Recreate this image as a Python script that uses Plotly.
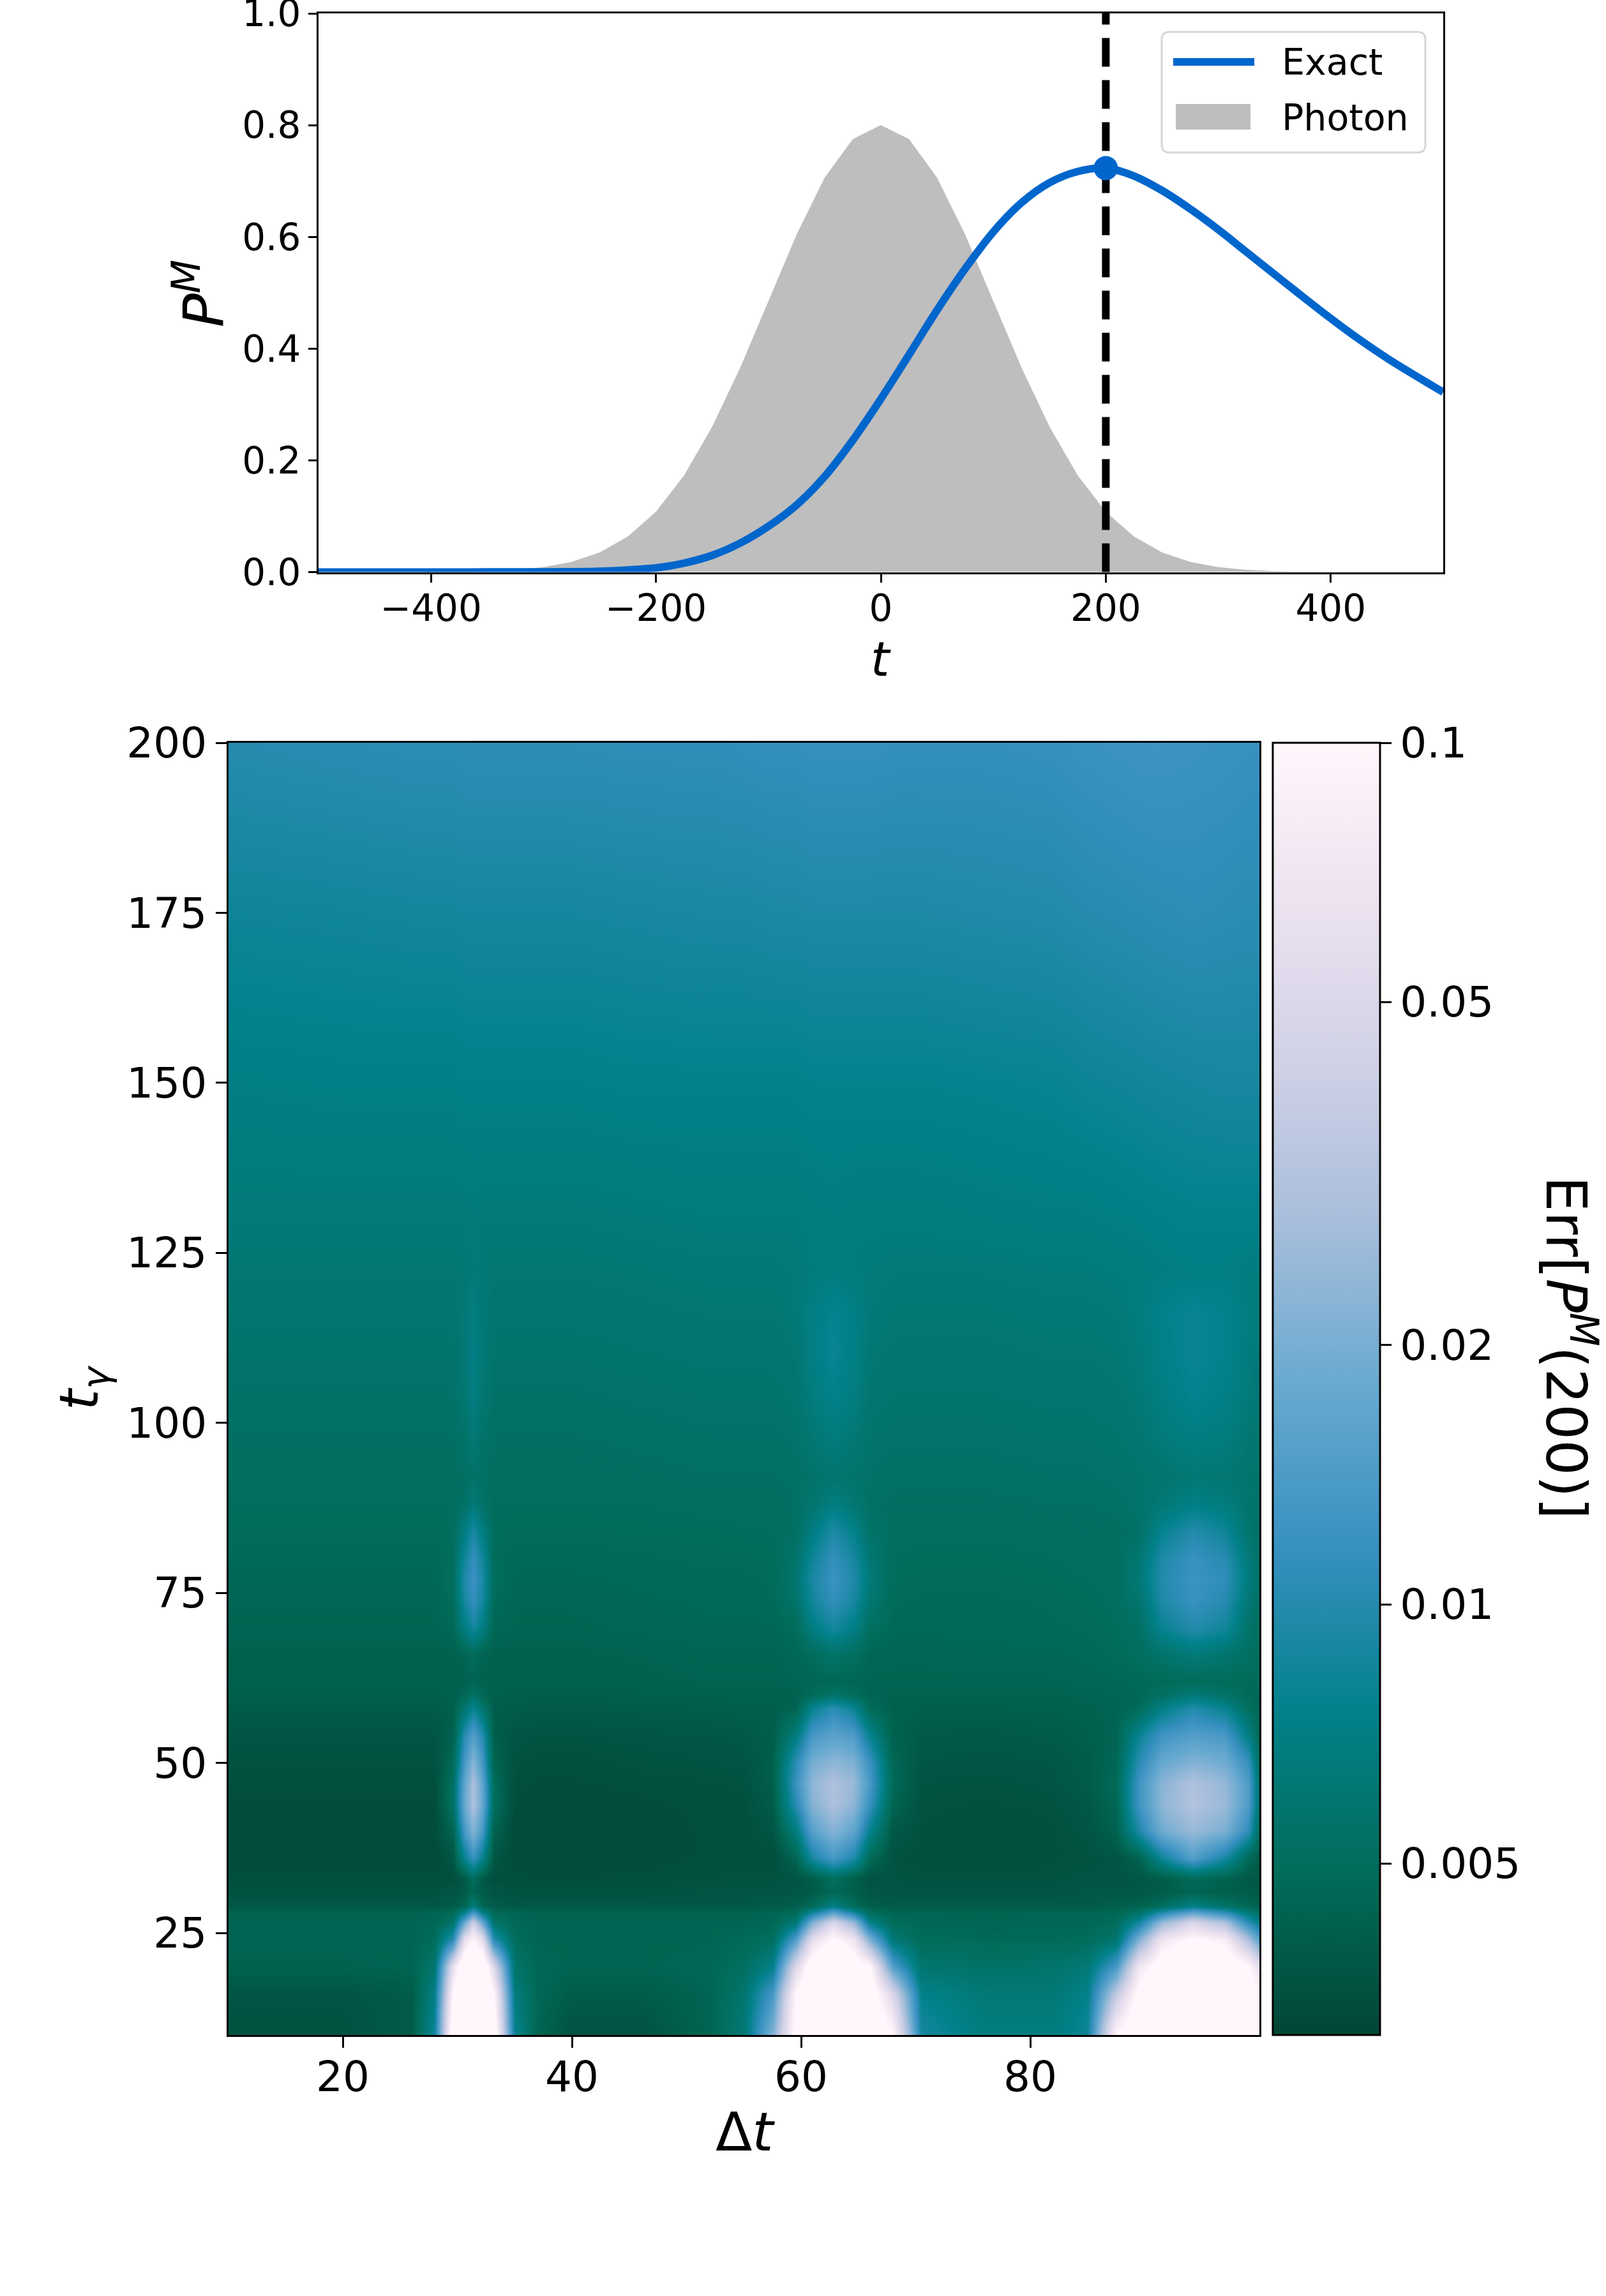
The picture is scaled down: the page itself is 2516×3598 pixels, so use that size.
import numpy as np
import plotly.graph_objects as go

W, H = 2516, 3598
FONT = "DejaVu Sans"

# ── top panel data ────────────────────────────────────────────────────────────
t_exact = [-500, -400, -300, -275, -250, -225, -200, -175, -150, -125, -100, -75, -50, -25,
           0, 25, 50, 75, 100, 125, 150, 175, 200, 225, 250, 275, 300, 325, 350, 375,
           400, 425, 450, 475, 500]
p_exact = [0.0, 0.0001, 0.0003, 0.0006, 0.0015, 0.0038, 0.0076, 0.016, 0.030, 0.052, 0.082, 0.120, 0.171, 0.236,
           0.310, 0.389, 0.469, 0.543, 0.609, 0.661, 0.697, 0.717, 0.723, 0.709, 0.683, 0.650, 0.613, 0.573, 0.533, 0.493,
           0.454, 0.417, 0.383, 0.352, 0.322]

t_photon = [-500, -400, -375, -350, -325, -300, -275, -250, -225, -200, -175, -150, -125, -100, -75, -50, -25,
            0, 25, 50, 75, 100, 125, 150, 175, 200, 225, 250, 275, 300, 325, 350, 375, 400, 500]
p_photon = [0.0, 0.0002, 0.0007, 0.0018, 0.0041, 0.0089, 0.0182, 0.0351, 0.0637, 0.108, 0.173, 0.26, 0.366, 0.485, 0.604, 0.706, 0.775,
            0.8, 0.775, 0.706, 0.604, 0.485, 0.366, 0.26, 0.173, 0.108, 0.0637, 0.0351, 0.0182, 0.0089, 0.0041, 0.0018, 0.0007, 0.0002, 0.0]

t_mark = [200]
p_mark = [0.723]

# ── heatmap data: position on the log colour bar, 0 = 10^-2.5, 1 = 0.1 ────────
dt = [10, 20, 26,
      28, 29.6, 30.6, 31.4, 32.2, 33.2, 35,
      37, 40, 46, 52, 55,
      57.5, 59.5, 61, 62.8, 64.6, 66, 68, 70.5,
      76, 82, 85,
      87.5, 89.5, 91.5, 94.2, 97, 99, 100]
t_gamma = [10, 16, 20, 24, 26.5, 28, 29, 31, 33, 36, 40, 44, 47, 50, 54, 58, 60, 62, 66, 70, 74, 77, 80, 84, 88,
           92, 98, 104, 110, 116, 122, 130, 150, 175, 200]
err_level = [
    [.04, .04, .07, .28, 1.1, 1.3, 1.3, 1.3, 1.1, .26, .10, .04, .04, .10, .20, .55, 1.05, 1.3, 1.3, 1.3, 1.2, 1.0, .30, .22, .22, .28, 1.0, 1.15, 1.3, 1.35, 1.3, 1.2, 1.1],
    [.05, .05, .07, .24, 1.0, 1.25, 1.3, 1.25, 1.0, .22, .11, .07, .07, .10, .18, .42, 1.0, 1.2, 1.3, 1.2, 1.1, .8, .25, .20, .20, .25, .7, 1.05, 1.2, 1.3, 1.25, 1.1, 1.0],
    [.09, .09, .10, .18, .85, 1.15, 1.2, 1.15, .8, .17, .11, .10, .10, .11, .14, .25, .8, 1.1, 1.2, 1.1, 1.0, .45, .18, .16, .17, .2, .42, .9, 1.1, 1.2, 1.15, 1.0, .85],
    [.10, .10, .10, .13, .35, .85, 1.0, .85, .35, .13, .10, .10, .10, .10, .12, .14, .45, .85, 1.02, .9, .55, .2, .13, .12, .12, .13, .18, .55, .9, 1.02, .95, .65, .45],
    [.10, .10, .10, .11, .17, .5, .75, .5, .17, .11, .10, .10, .10, .10, .10, .11, .2, .55, .8, .6, .25, .13, .11, .10, .11, .11, .13, .3, .6, .8, .65, .35, .25],
    [.09, .09, .09, .10, .12, .25, .42, .25, .12, .10, .09, .09, .09, .09, .09, .10, .12, .28, .46, .3, .13, .10, .10, .10, .10, .10, .11, .16, .33, .48, .36, .2, .15],
    [.06, .06, .06, .06, .07, .1, .22, .1, .07, .06, .06, .06, .06, .06, .06, .07, .08, .12, .24, .13, .08, .07, .07, .07, .07, .07, .08, .09, .14, .24, .16, .11, .09],
    [.04, .04, .04, .04, .05, .07, .10, .07, .05, .04, .04, .04, .04, .045, .045, .05, .055, .07, .11, .08, .055, .05, .05, .05, .05, .055, .055, .06, .07, .1, .08, .07, .06],
    [.03, .03, .03, .03, .03, .06, .14, .06, .03, .03, .025, .025, .03, .035, .04, .04, .045, .07, .14, .08, .045, .045, .04, .04, .04, .05, .05, .055, .07, .12, .09, .06, .055],
    [.02, .02, .02, .02, .05, .26, .38, .26, .05, .02, .02, .02, .02, .03, .03, .03, .10, .30, .42, .32, .12, .04, .03, .03, .035, .04, .05, .09, .28, .45, .30, .12, .07],
    [.02, .02, .02, .02, .10, .42, .56, .42, .09, .02, .02, .02, .02, .03, .03, .05, .22, .46, .56, .48, .26, .06, .035, .03, .035, .05, .09, .32, .52, .60, .54, .36, .13],
    [.025, .025, .025, .025, .16, .5, .65, .5, .14, .025, .02, .02, .025, .03, .035, .07, .34, .56, .65, .58, .38, .10, .04, .035, .04, .06, .11, .4, .58, .66, .6, .44, .17],
    [.03, .03, .03, .03, .15, .48, .64, .48, .13, .03, .025, .025, .03, .035, .04, .08, .38, .58, .65, .6, .42, .12, .045, .04, .05, .07, .12, .4, .57, .65, .59, .44, .17],
    [.04, .04, .04, .04, .12, .42, .57, .42, .1, .04, .03, .03, .04, .045, .05, .08, .35, .53, .58, .55, .39, .11, .055, .05, .055, .075, .11, .35, .5, .56, .52, .38, .14],
    [.05, .05, .05, .05, .09, .34, .45, .34, .08, .05, .045, .045, .05, .055, .06, .08, .22, .42, .47, .44, .26, .09, .065, .06, .07, .08, .1, .27, .4, .45, .42, .24, .11],
    [.07, .07, .07, .07, .08, .18, .27, .18, .075, .07, .065, .065, .07, .075, .08, .08, .10, .26, .35, .27, .12, .09, .08, .08, .085, .09, .1, .13, .24, .33, .26, .14, .11],
    [.08, .08, .08, .08, .085, .11, .16, .11, .085, .08, .075, .075, .08, .085, .085, .09, .09, .12, .17, .13, .1, .09, .09, .09, .09, .10, .10, .11, .15, .2, .16, .12, .11],
    [.085, .085, .085, .085, .085, .09, .10, .09, .085, .085, .085, .085, .09, .095, .095, .095, .10, .105, .11, .105, .10, .10, .10, .10, .10, .105, .11, .115, .12, .125, .125, .12, .12],
    [.09, .09, .09, .09, .09, .1, .13, .1, .09, .09, .09, .09, .095, .10, .10, .10, .11, .13, .17, .14, .11, .105, .105, .11, .11, .115, .125, .14, .17, .21, .18, .15, .135],
    [.10, .10, .10, .10, .115, .23, .3, .23, .11, .10, .10, .10, .105, .11, .11, .11, .13, .23, .3, .24, .15, .115, .115, .115, .12, .125, .13, .15, .27, .33, .29, .17, .14],
    [.105, .105, .105, .105, .13, .3, .37, .3, .125, .105, .105, .105, .11, .115, .115, .12, .17, .29, .37, .3, .19, .125, .12, .12, .125, .13, .14, .18, .32, .38, .34, .2, .15],
    [.11, .11, .11, .11, .14, .32, .39, .32, .135, .11, .11, .11, .115, .12, .12, .125, .18, .31, .39, .32, .21, .13, .125, .125, .13, .135, .14, .2, .33, .39, .36, .22, .16],
    [.115, .115, .115, .115, .135, .29, .37, .29, .13, .115, .115, .115, .12, .125, .125, .13, .17, .28, .37, .3, .19, .135, .13, .13, .135, .14, .14, .19, .32, .38, .34, .21, .155],
    [.125, .125, .125, .125, .135, .23, .31, .23, .13, .125, .125, .125, .13, .13, .135, .135, .15, .23, .32, .25, .165, .14, .14, .14, .14, .145, .14, .16, .26, .33, .28, .18, .15],
    [.135, .135, .135, .135, .135, .16, .21, .16, .135, .135, .135, .135, .135, .14, .14, .14, .15, .18, .23, .19, .155, .145, .145, .145, .15, .15, .155, .17, .2, .24, .22, .18, .16],
    [.14, .14, .14, .14, .14, .15, .16, .15, .14, .14, .14, .14, .145, .15, .15, .15, .155, .165, .18, .17, .16, .155, .155, .155, .16, .16, .165, .17, .18, .195, .19, .175, .17],
    [.15, .15, .15, .15, .15, .165, .20, .165, .15, .15, .15, .15, .155, .16, .16, .16, .165, .19, .22, .195, .17, .165, .165, .165, .17, .17, .175, .185, .21, .23, .22, .19, .18],
    [.16, .16, .16, .16, .16, .19, .23, .19, .16, .16, .16, .16, .165, .17, .17, .17, .18, .22, .25, .225, .185, .175, .175, .175, .18, .18, .185, .2, .23, .26, .24, .21, .19],
    [.17, .17, .17, .17, .17, .2, .24, .2, .17, .17, .17, .17, .175, .18, .18, .18, .19, .235, .27, .24, .195, .185, .185, .185, .19, .19, .195, .21, .245, .27, .255, .22, .2],
    [.18, .18, .18, .18, .18, .2, .23, .2, .18, .18, .18, .18, .185, .19, .19, .19, .2, .235, .26, .24, .205, .195, .195, .195, .2, .2, .205, .22, .25, .27, .255, .225, .21],
    [.19, .19, .19, .19, .19, .195, .205, .195, .19, .19, .19, .19, .195, .2, .2, .2, .205, .215, .225, .215, .21, .205, .205, .205, .21, .21, .215, .22, .23, .235, .235, .225, .22],
    [.205, .205, .205, .205, .205, .205, .21, .205, .205, .205, .205, .205, .21, .215, .215, .215, .215, .22, .225, .22, .22, .22, .22, .225, .23, .23, .235, .24, .245, .25, .25, .25, .25],
    [.235, .24, .24, .24, .24, .245, .245, .245, .245, .245, .245, .245, .25, .25, .25, .25, .25, .255, .255, .255, .255, .255, .255, .26, .265, .275, .28, .285, .29, .295, .3, .3, .3],
    [.28, .285, .29, .29, .29, .295, .295, .295, .295, .295, .295, .295, .3, .305, .305, .31, .31, .315, .315, .315, .315, .315, .315, .32, .325, .335, .34, .345, .35, .355, .35, .345, .35],
    [.335, .345, .35, .35, .35, .355, .355, .355, .355, .355, .355, .355, .36, .36, .365, .37, .37, .375, .375, .375, .375, .37, .37, .37, .375, .385, .39, .395, .395, .39, .385, .38, .38],
]
cbar_ticks = [0.1, 0.05, 0.02, 0.01, 0.005]
cbar_labels = ["0.1", "0.05", "0.02", "0.01", "0.005"]

pubugn_r = ["#014636", "#016c59", "#02818a", "#3690c0", "#67a9cf", "#a6bddb", "#d0d1e6", "#ece2f0", "#fff7fb"]


def px_x(x):
    return x / W


def px_y(y):
    return 1 - y / H


fig = go.Figure()

# ── top panel ────────────────────────────────────────────────────────────────
fig.add_trace(go.Scatter(
    x=t_photon, y=p_photon, mode="none", fill="tozeroy", fillcolor="#bebebe",
    name="Photon", showlegend=False, xaxis="x", yaxis="y",
))
fig.add_trace(go.Scatter(
    x=[200, 200], y=[0, 1], mode="lines", showlegend=False, xaxis="x", yaxis="y",
    line=dict(color="black", width=12, dash="45px,21px"),
))
fig.add_trace(go.Scatter(
    x=t_exact, y=p_exact, mode="lines", name="Exact", showlegend=False, xaxis="x", yaxis="y",
    line=dict(color="#0066cc", width=12, shape="spline", smoothing=1.0),
))
fig.add_trace(go.Scatter(
    x=t_mark, y=p_mark, mode="markers", showlegend=False, xaxis="x", yaxis="y",
    marker=dict(color="#0066cc", size=38),
))

# ── heatmap ──────────────────────────────────────────────────────────────────
fig.add_trace(go.Heatmap(
    x=dt, y=t_gamma, z=err_level,
    xaxis="x2", yaxis="y2",
    zmin=0, zmax=1, zsmooth="best",
    colorscale=[[i / 8, c] for i, c in enumerate(pubugn_r)],
    colorbar=dict(
        x=px_x(1993.5), xanchor="left", xpad=0,
        y=px_y(3189), yanchor="bottom", ypad=0,
        len=(3189 - 1164) / H, lenmode="fraction",
        thickness=167.5, thicknessmode="pixels",
        outlinecolor="black", outlinewidth=3, borderwidth=0,
        tickmode="array", tickvals=((np.log10(cbar_ticks) + 2.5) / 1.5).tolist(), ticktext=cbar_labels,
        ticks="outside", ticklen=17, tickwidth=3, tickcolor="black",
        tickfont=dict(family=FONT, size=66, color="black"),
    ),
))

axis_common = dict(
    showgrid=False, zeroline=False, showline=True, mirror=True, automargin=False,
    linecolor="black", linewidth=3, ticks="outside", tickcolor="black",
    ticklabeloverflow="allow",
)

annotations = []


def label(text, x, y, size, angle=0, anchor="center"):
    annotations.append(dict(
        text=text, x=px_x(x), y=px_y(y), xref="paper", yref="paper",
        xanchor=anchor, yanchor="middle", showarrow=False, textangle=angle,
        font=dict(family=FONT, size=size, color="black"),
    ))


label("<i>t</i>", 1380, 1033, 75)
label("<i>P</i><sup><i>M</i></sup>", 314, 460, 88, -90)
label("Δ<i>t</i>", 1167, 3341, 84)
label("<i>t</i><sub><i>γ</i></sub>", 130, 2175, 84, -90)
label("Err[<i>P</i><sup><i>M</i></sup>(200)]", 2460, 2112, 88, 90)

# legend drawn by hand to get the wide swatches and rounded frame
label("Exact", 2006, 97, 57, anchor="left")
label("Photon", 2006, 184, 57, anchor="left")


def rounded_box(x0, y0, x1, y1, r):
    a0, a1 = px_x(x0), px_x(x1)
    b0, b1 = px_y(y0), px_y(y1)
    rx, ry = r / W, r / H
    return (f"M{a0 + rx},{b0} L{a1 - rx},{b0} Q{a1},{b0} {a1},{b0 - ry} "
            f"L{a1},{b1 + ry} Q{a1},{b1} {a1 - rx},{b1} "
            f"L{a0 + rx},{b1} Q{a0},{b1} {a0},{b1 + ry} "
            f"L{a0},{b0 - ry} Q{a0},{b0} {a0 + rx},{b0} Z")


shapes = [
    dict(type="path", path=rounded_box(1820, 50, 2233, 239, 12), xref="paper", yref="paper",
         line=dict(color="#d6d6d6", width=3), fillcolor="rgba(255,255,255,0.8)", layer="above"),
    dict(type="line", x0=px_x(1838), x1=px_x(1965), y0=px_y(97), y1=px_y(97), xref="paper", yref="paper",
         line=dict(color="#0066cc", width=12), layer="above"),
    dict(type="rect", x0=px_x(1842), x1=px_x(1959), y0=px_y(163), y1=px_y(203), xref="paper", yref="paper",
         line=dict(width=0), fillcolor="#bebebe", layer="above"),
]

fig.update_layout(
    width=W, height=H,
    margin=dict(l=0, r=0, t=0, b=0),
    paper_bgcolor="white", plot_bgcolor="white",
    font=dict(family=FONT, color="black"),
    showlegend=False,
    annotations=annotations,
    shapes=shapes,
    xaxis=dict(
        domain=[px_x(499), px_x(2261)], range=[-500, 500], anchor="y",
        tick0=-400, dtick=200, ticklen=13, tickwidth=3, ticklabelstandoff=-9,
        tickfont=dict(family=FONT, size=58), **axis_common,
    ),
    yaxis=dict(
        domain=[px_y(896.5), px_y(21)], range=[0, 1], anchor="x",
        tick0=0, dtick=0.2, tickformat=".1f", ticklen=13, tickwidth=3,
        tickfont=dict(family=FONT, size=58), **axis_common,
    ),
    xaxis2=dict(
        domain=[px_x(357.5), px_x(1973)], range=[10, 100], anchor="y2",
        tickvals=[20, 40, 60, 80], ticklen=17, tickwidth=3, ticklabelstandoff=-11,
        tickfont=dict(family=FONT, size=66), **axis_common,
    ),
    yaxis2=dict(
        domain=[px_y(3189), px_y(1164)], range=[10, 200], anchor="x2",
        tickvals=[25, 50, 75, 100, 125, 150, 175, 200], ticklen=17, tickwidth=3,
        tickfont=dict(family=FONT, size=66), **axis_common,
    ),
)

fig.write_html("out.html", config={"displayModeBar": False}, post_script="document.body.style.margin='0';")
